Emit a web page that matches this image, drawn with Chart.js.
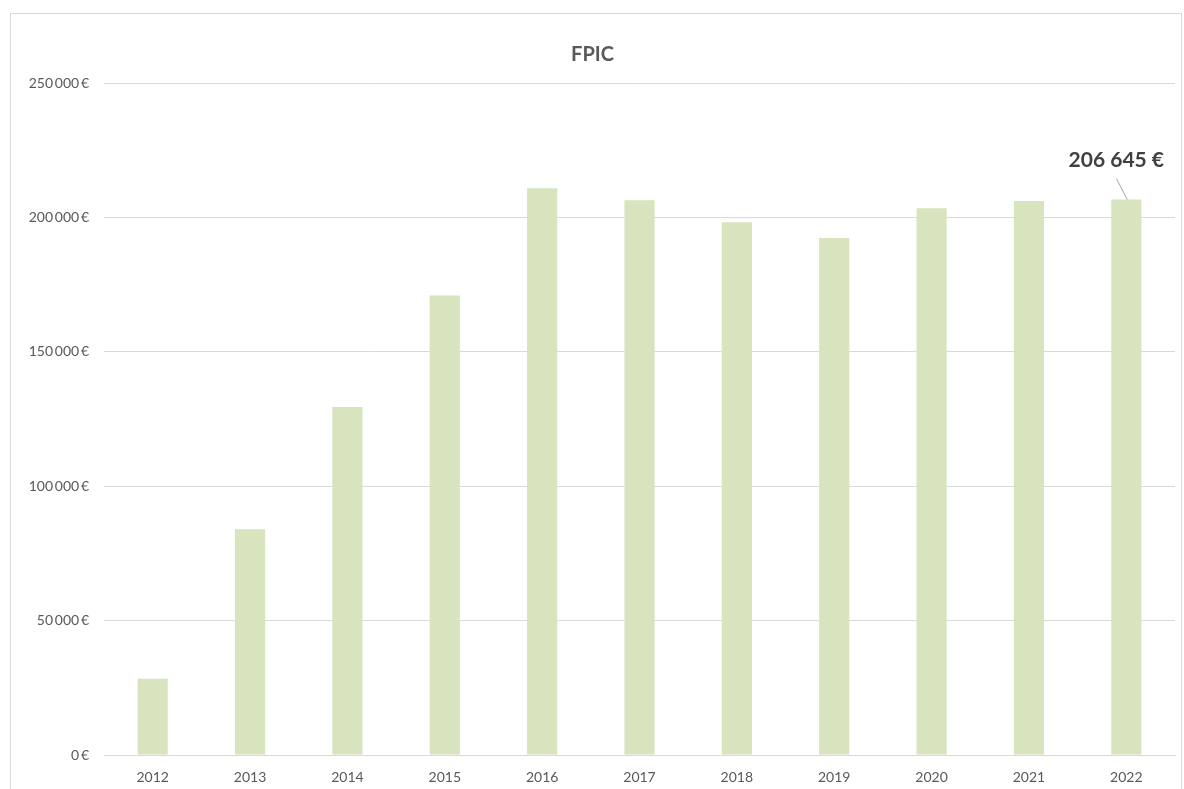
<!DOCTYPE html>
<html>
<head>
<meta charset="utf-8">
<script src="https://cdn.jsdelivr.net/npm/chart.js@4"></script>
<style>
  html, body { margin: 0; padding: 0; background: #fff; }
  #wrap { position: relative; width: 1184px; height: 789px; }
  #frame { position: absolute; left: 10px; top: 13px; width: 1170px; height: 800px; border: 1px solid #d9d9d9; }
  canvas { position: absolute; left: 0; top: 0; }
</style>
</head>
<body>
<div id="wrap">
  <div id="frame"></div>
  <canvas id="fpicChart" width="1184" height="789"></canvas>
</div>
<script>
const years = ['2012', '2013', '2014', '2015', '2016', '2017', '2018', '2019', '2020', '2021', '2022'];
const fpicValues = [28400, 84000, 129500, 170900, 210800, 206400, 198200, 192300, 203400, 206100, 206645];
const yTicks = [0, 50000, 100000, 150000, 200000, 250000];
const labelledIndex = 10;

function euro(v) {
    return v.toLocaleString('fr-FR').replace(/\s/g, '\u2009') + '\u2009€';
}

// label with a small leader line above the last bar
const leaderLabel = {
    id: 'leaderLabel',
    afterDatasetsDraw(chart) {
        const bar = chart.getDatasetMeta(0).data[labelledIndex];
        const ctx = chart.ctx;
        ctx.save();
        ctx.strokeStyle = '#a6a6a6';
        ctx.lineWidth = 1;
        ctx.beginPath();
        ctx.moveTo(bar.x - 10, bar.y - 21);
        ctx.lineTo(bar.x + 1, bar.y);
        ctx.stroke();
        ctx.fillStyle = '#404040';
        ctx.font = 'bold 21px Lato';
        ctx.textAlign = 'center';
        ctx.textBaseline = 'middle';
        ctx.fillText(fpicValues[labelledIndex].toLocaleString('fr-FR').replace(/\s/g, ' ') + ' €', bar.x - 10, bar.y - 39);
        ctx.restore();
    }
};

new Chart(document.getElementById('fpicChart'), {
    type: 'bar',
    data: {
        labels: years,
        datasets: [{
            label: 'FPIC',
            data: fpicValues,
            backgroundColor: '#d7e4bd',
            borderWidth: 0,
            barPercentage: 0.62,
            categoryPercentage: 0.5
        }]
    },
    options: {
        responsive: false,
        animation: false,
        layout: {
            padding: { left: 10, right: 9, top: 0, bottom: 0 }
        },
        plugins: {
            legend: { display: false },
            tooltip: { enabled: false },
            title: {
                display: true,
                text: 'FPIC',
                color: '#595959',
                font: { family: 'Lato', size: 20, weight: 'bold' },
                padding: { top: 43, bottom: 16 }
            }
        },
        scales: {
            x: {
                grid: { display: false },
                border: { color: '#d9d9d9', width: 1 },
                ticks: {
                    color: '#595959',
                    font: { family: 'Lato', size: 14 },
                    padding: 6
                },
                afterFit: s => { s.height = 34; }
            },
            y: {
                min: 0,
                max: 250000,
                afterBuildTicks: s => { s.ticks = yTicks.map(v => ({ value: v })); },
                grid: { color: '#d9d9d9', drawTicks: false },
                border: { display: false },
                ticks: {
                    color: '#595959',
                    font: { family: 'Lato', size: 14 },
                    padding: 15,
                    callback: v => euro(v)
                },
                afterFit: s => { s.width = 94; }
            }
        }
    },
    plugins: [leaderLabel]
});
</script>
</body>
</html>
